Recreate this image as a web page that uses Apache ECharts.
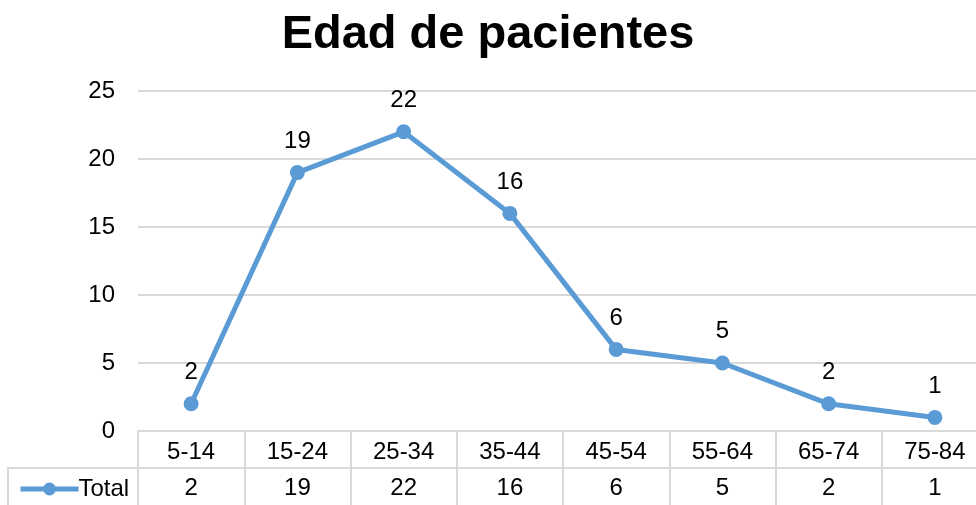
<!DOCTYPE html>
<html>
<head>
<meta charset="utf-8">
<script src="https://cdn.jsdelivr.net/npm/echarts@6/dist/echarts.min.js"></script>
<style>
  html, body { margin: 0; padding: 0; background: #fff; }
  #chart { width: 976px; height: 505px; }
</style>
</head>
<body>
<div id="chart"></div>
<script>
var categories = ['5-14', '15-24', '25-34', '35-44', '45-54', '55-64', '65-74', '75-84'];
var totals = [2, 19, 22, 16, 6, 5, 2, 1];
var seriesName = 'Total';

var font = 'Liberation Sans, Arial, sans-serif';
var lineColor = '#5b9bd5';
var gridColor = '#d9d9d9';

var chart = echarts.init(document.getElementById('chart'));

chart.setOption({
    animation: false,
    title: {
        text: 'Edad de pacientes',
        left: 'center',
        top: 7,
        textStyle: {
            fontFamily: font,
            fontSize: 47,
            fontWeight: 'bold',
            color: '#000'
        }
    },
    legend: {
        left: 13,
        top: 472,
        itemWidth: 58,
        itemHeight: 16,
        itemGap: 0,
        lineStyle: { width: 5 },
        textStyle: { fontFamily: font, fontSize: 24, color: '#000', padding: [0, 0, 0, -5] },
        data: [seriesName]
    },
    grid: { left: 138, width: 850, top: 91, bottom: 74, outerBoundsMode: 'none' },
    xAxis: [{
        type: 'category',
        data: categories,
        position: 'bottom',
        axisLine: { lineStyle: { color: gridColor, width: 2 } },
        axisTick: { show: true, length: 74, lineStyle: { color: gridColor, width: 2 } },
        axisLabel: { fontFamily: font, fontSize: 24, color: '#000', margin: 9 }
    }, {
        type: 'category',
        data: totals,
        position: 'bottom',
        offset: 37,
        axisLine: { lineStyle: { color: gridColor, width: 2 } },
        axisTick: { show: false },
        axisLabel: { fontFamily: font, fontSize: 24, color: '#000', margin: 8 }
    }],
    yAxis: {
        type: 'value',
        min: 0,
        max: 25,
        interval: 5,
        axisLine: { show: false },
        axisTick: { show: false },
        splitLine: { lineStyle: { color: gridColor, width: 2 } },
        axisLabel: { fontFamily: font, fontSize: 24, color: '#000', margin: 23 }
    },
    series: [{
        name: seriesName,
        type: 'line',
        data: totals,
        symbol: 'circle',
        symbolSize: 15,
        lineStyle: { color: lineColor, width: 5 },
        itemStyle: { color: lineColor },
        label: {
            show: true,
            position: 'top',
            distance: 12,
            fontFamily: font,
            fontSize: 24,
            color: '#000'
        }
    }],
    graphic: [{
        type: 'polyline',
        silent: true,
        shape: { points: [[8, 505], [8, 468], [138, 468]] },
        style: { stroke: gridColor, lineWidth: 2, fill: null }
    }]
});
</script>
</body>
</html>
